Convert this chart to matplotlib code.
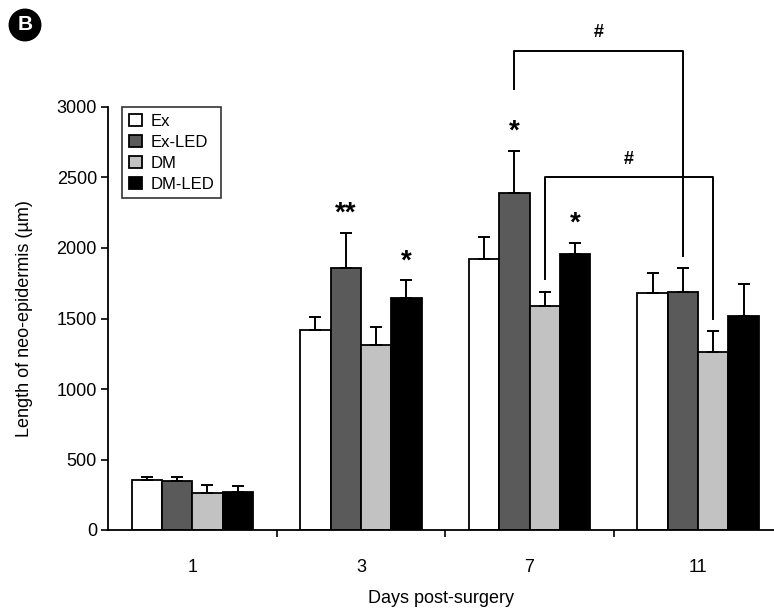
import matplotlib
matplotlib.use("Agg")
import matplotlib.pyplot as plt
import numpy as np

plt.rcParams['font.family'] = ['Liberation Sans', 'DejaVu Sans']

# ---- data ----
days = ['1', '3', '7', '11']
groups = ['Ex', 'Ex-LED', 'DM', 'DM-LED']
ex = [355, 1418, 1922, 1683]
ex_err = [20, 90, 155, 142]
exled = [345, 1856, 2392, 1688]
exled_err = [30, 253, 298, 172]
dm = [262, 1312, 1589, 1260]
dm_err = [55, 130, 97, 154]
dmled = [270, 1643, 1960, 1520]
dmled_err = [40, 130, 78, 227]
y_ticks = [0, 500, 1000, 1500, 2000, 2500, 3000]

# significance stars: (day index, group index, label)
stars = [(1, 1, '**'), (1, 3, '*'), (2, 1, '*'), (2, 3, '*')]
# brackets: (day a, day b, group index, top, left bottom, right bottom)
brackets = [(2, 3, 1, 3400, 3125, 1940), (2, 3, 2, 2500, 1780, 1500)]

values = [ex, exled, dm, dmled]
errors = [ex_err, exled_err, dm_err, dmled_err]
colors = ['white', '#5a5a5a', '#c2c2c2', 'black']

W, H = 774, 609
fig = plt.figure(figsize=(W / 100, H / 100), dpi=100)
ax = fig.add_axes([108 / W, 79 / H, (W - 108) / W, 423 / H])

bw = 0.18
x = np.arange(len(days))
offsets = (np.arange(4) - 1.5) * bw
for g in range(4):
    ax.bar(x + offsets[g], values[g], bw, color=colors[g], edgecolor='black',
           linewidth=1.3, label=groups[g], zorder=2)
    ax.errorbar(x + offsets[g], values[g], yerr=[np.zeros(4), errors[g]],
                fmt='none', ecolor='black', elinewidth=1.4, capsize=4.5,
                capthick=1.4, zorder=3)

for d, g, s in stars:
    top = values[g][d] + errors[g][d]
    ax.text(x[d] + offsets[g], top + 40, s, ha='center', va='bottom',
            fontsize=20, fontweight='bold', zorder=4)

for da, db, g, top, lb, rb in brackets:
    xa = x[da] + offsets[g]
    xb = x[db] + offsets[g]
    ax.plot([xa, xa, xb, xb], [lb, top, top, rb], color='black', lw=1.4,
            clip_on=False, zorder=4)
    ax.text((xa + xb) / 2, top + 70, '#', ha='center', va='bottom',
            fontsize=13, fontweight='bold')

ax.set_xlim(-0.5, 3.45)
ax.set_ylim(0, 3000)
ax.set_yticks(y_ticks)
ax.set_yticklabels([str(v) for v in y_ticks], fontsize=13)
ax.set_xticks(x)
ax.set_xticklabels(days, fontsize=13)
ax.tick_params(axis='x', length=0, pad=21)
ax.set_xticks([0.5, 1.5, 2.5], minor=True)
ax.tick_params(axis='x', which='minor', length=5, width=1.2, direction='out')
ax.tick_params(axis='y', length=5, width=1.2, direction='out', pad=3)
for s in ['top', 'right']:
    ax.spines[s].set_visible(False)
for s in ['left', 'bottom']:
    ax.spines[s].set_linewidth(1.3)

ax.set_xlabel('Days post-surgery', fontsize=13, labelpad=10)
ax.set_ylabel('Length of neo-epidermis (\u00b5m)', fontsize=13, labelpad=17)

leg = ax.legend(loc='upper left', bbox_to_anchor=(14 / (W - 108), 1.0),
                fontsize=12, frameon=True, fancybox=False, edgecolor='black',
                handlelength=0.8, handleheight=0.8, handletextpad=0.5,
                borderpad=0.4, labelspacing=0.35, borderaxespad=0)
leg.get_frame().set_linewidth(1.2)

# panel label "B"
fig.text(25 / W, 1 - 25 / H, 'B', ha='center', va='center', fontsize=15,
         fontweight='bold', color='white',
         bbox=dict(boxstyle='circle,pad=0.3', fc='black', ec='black'))

fig.savefig('out.png', dpi=100)
